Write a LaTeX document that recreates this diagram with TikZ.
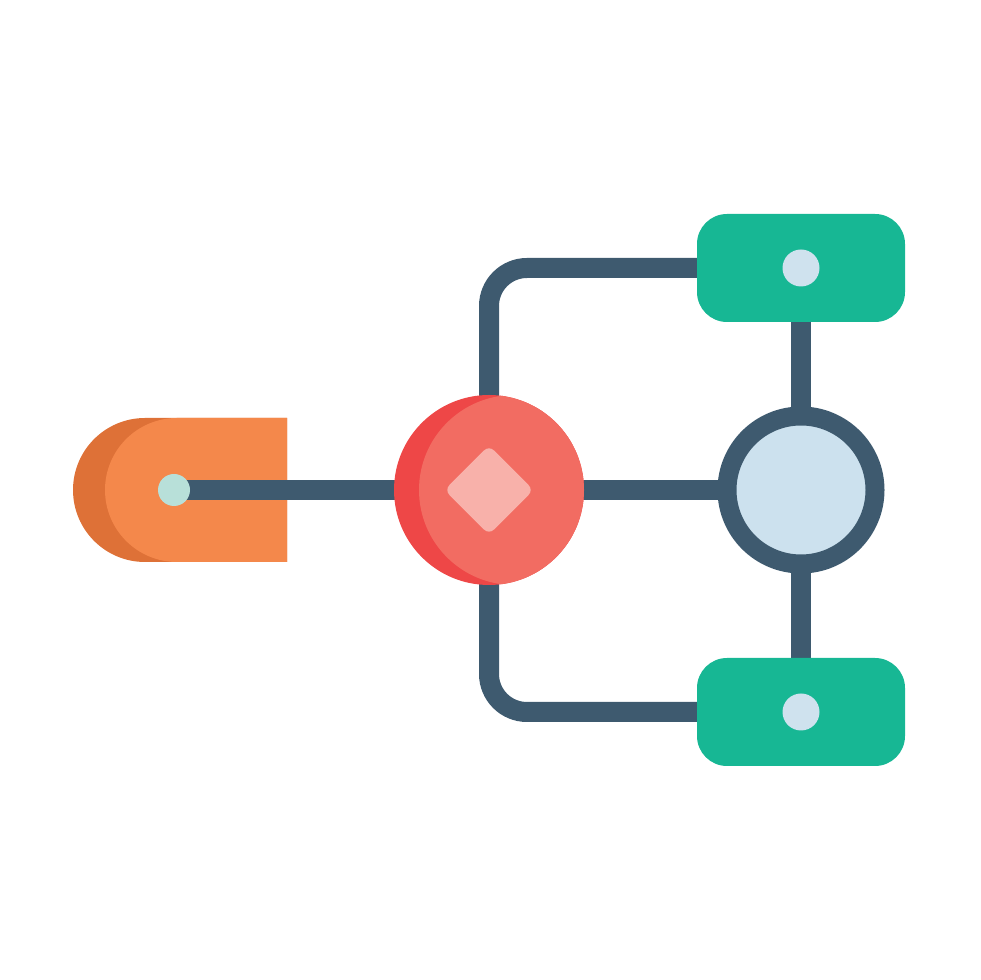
\documentclass[tikz,border=0pt]{standalone}
\definecolor{wirecol}{HTML}{3E5A6F}
\definecolor{boxgreen}{HTML}{17B794}
\definecolor{dotblue}{HTML}{CFE2EE}
\definecolor{hubblue}{HTML}{CCE1EE}
\definecolor{reddark}{HTML}{EE4747}
\definecolor{redlight}{HTML}{F26C62}
\definecolor{gemcol}{HTML}{F8B1AA}
\definecolor{orangedark}{HTML}{DE7137}
\definecolor{orangelight}{HTML}{F4884B}
\definecolor{srcdot}{HTML}{B8E0D9}
\pgfdeclarelayer{back}
\pgfsetlayers{back,main}
\begin{document}
\begin{tikzpicture}[line cap=butt,line join=round,x=1pt,y=1pt,
  wire/.style={line width=20pt,draw=wirecol},
  slot/.style={rectangle,rounded corners=30pt,minimum width=208pt,minimum height=108pt,fill=boxgreen,inner sep=0pt,outer sep=0pt},
  slotdot/.style={circle,fill=dotblue,minimum size=37pt,inner sep=0pt,outer sep=0pt},
  hub/.style={circle,draw=wirecol,line width=19pt,fill=hubblue,minimum size=148pt,inner sep=0pt,outer sep=0pt}]
\useasboundingbox (0,0) rectangle (980,980);
% source plug
\begin{pgfonlayer}{back}
\begin{scope}
\clip (287,562) -- (145,562) arc[start angle=90,end angle=270,radius=72] -- (287,418) -- cycle;
\fill[orangedark] (287,562) -- (145,562) arc[start angle=90,end angle=270,radius=72] -- (287,418) -- cycle;
\fill[orangelight] (330,562) -- (177,562) arc[start angle=90,end angle=270,radius=72] -- (330,418) -- cycle;
\end{scope}
\end{pgfonlayer}
\node[circle,fill=srcdot,minimum size=32pt,inner sep=0pt,outer sep=0pt] (src) at (174,490) {};
% decision
\node[circle,minimum size=190pt,inner sep=0pt,outer sep=0pt,fill=reddark,
  path picture={\fill[redlight] ([xshift=25pt]path picture bounding box.center) circle[radius=95pt];}] (dec) at (489,490) {};
\node[rectangle,rotate=45,minimum size=63pt,rounded corners=7pt,fill=gemcol,inner sep=0pt] (gem) at (dec.center) {};
% outputs
\node[slot] (top) at (801,712) {};
\node[slotdot] (topdot) at (top.center) {};
\node[slot] (bot) at (801,268) {};
\node[slotdot] (botdot) at (bot.center) {};
\node[hub] (hub) at (801,490) {};
\begin{pgfonlayer}{back}
\draw[wire] (src.center) -- (dec.center);
\draw[wire] (dec.center) -- (hub.center);
\draw[wire,rounded corners=38pt] (dec.center) |- (top.center);
\draw[wire,rounded corners=38pt] (dec.center) |- (bot.center);
\draw[wire] (top.center) -- (hub.center);
\draw[wire] (bot.center) -- (hub.center);
\end{pgfonlayer}
\end{tikzpicture}
\end{document}
